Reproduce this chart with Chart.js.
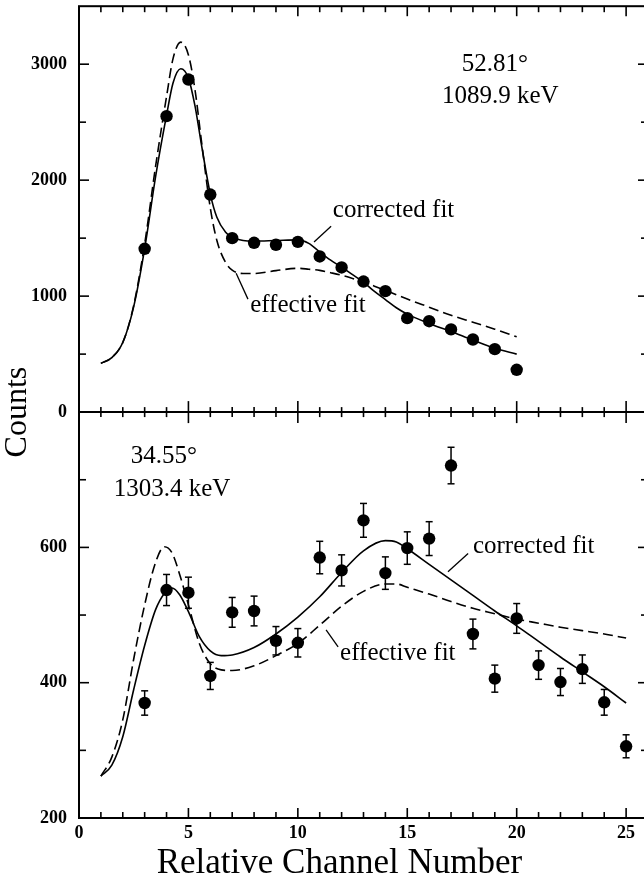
<!DOCTYPE html>
<html>
<head>
<meta charset="utf-8">
<title>Counts vs relative channel number</title>
<script src="https://cdn.jsdelivr.net/npm/chart.js@4.4.1/dist/chart.umd.min.js"></script>
<style>
  html, body { margin: 0; padding: 0; background: #fff; overflow: hidden; }
  #wrap { width: 664px; height: 877px; }
</style>
</head>
<body>
<div id="wrap"><canvas id="spectrum" width="664" height="877"></canvas></div>
<script>
// upper panel: 52.81 deg, 1089.9 keV
const chTop = [3, 4, 5, 6, 7, 8, 9, 10, 11, 12, 13, 14, 15, 16, 17, 18, 19, 20];
const countsTop = [1408, 2552, 2868, 1876, 1500, 1460, 1443, 1468, 1342, 1247, 1126, 1043, 810, 784, 713, 626, 543, 365];

const fitChTop = [1, 1.5, 2, 2.5, 3, 3.5, 4, 4.3, 4.65, 5, 5.3, 5.6, 6, 6.3, 6.7, 7, 7.5, 8, 9, 10, 10.5, 11, 11.5, 12, 12.5, 13, 13.5, 14, 14.5, 15, 16, 17, 18, 19, 20];
const correctedTop = [420, 470, 600, 910, 1410, 2030, 2560, 2840, 2960, 2880, 2640, 2300, 1880, 1680, 1550, 1505, 1480, 1475, 1480, 1485, 1455, 1380, 1310, 1250, 1185, 1120, 1040, 970, 900, 845, 765, 695, 620, 550, 500];
const effectiveTop = [420, 470, 600, 920, 1450, 2120, 2720, 3050, 3190, 3080, 2780, 2330, 1760, 1480, 1290, 1225, 1195, 1195, 1220, 1240, 1232, 1222, 1202, 1180, 1152, 1120, 1086, 1050, 1012, 975, 905, 835, 775, 715, 650];

// lower panel: 34.55 deg, 1303.4 keV
const chBot = [3, 4, 5, 6, 7, 8, 9, 10, 11, 12, 13, 14, 15, 16, 17, 18, 19, 20, 21, 22, 23, 24, 25];
const countsBot = [370, 537, 533, 410, 504, 506, 462, 459, 585, 566, 640, 562, 599, 613, 721, 472, 406, 495, 426, 401, 420, 371, 306];
const errBot = [18, 23, 23, 20, 22, 22, 21, 21, 24, 23, 25, 24, 24, 25, 27, 22, 20, 22, 21, 20, 21, 19, 17];

const fitChBot = [1, 1.5, 2, 2.5, 3, 3.5, 3.9, 4.25, 4.6, 5, 5.5, 6, 6.5, 7, 8, 9, 10, 11, 12, 13, 14, 14.5, 15, 16, 17, 18, 19, 20, 21, 22, 23, 24, 25];
const correctedBot = [262, 278, 320, 390, 455, 508, 532, 540, 530, 505, 468, 447, 440, 441, 452, 472, 497, 527, 563, 595, 610, 608, 598, 575, 552, 529, 506, 484, 461, 438, 416, 394, 370];
const effectiveBot = [262, 290, 345, 435, 515, 578, 601, 592, 560, 515, 458, 428, 419, 418, 425, 440, 458, 485, 513, 535, 546, 546, 541, 531, 520, 510, 502, 494, 488, 482, 477, 472, 466];

const serif = "'Liberation Serif', 'Times New Roman', serif";

function pts(xs, ys) {
  return xs.map((x, i) => ({ x: x, y: ys[i] }));
}

// text labels and their leader lines, placed in data units of each panel
const notes = [
  { axis: 'yTop', text: '52.81\u00b0', x: 19.0, y: 3000, align: 'center' },
  { axis: 'yTop', text: '1089.9 keV', x: 19.25, y: 2724, align: 'center' },
  { axis: 'yTop', text: 'corrected fit', x: 11.6, y: 1741, align: 'left', lead: [11.52, 1603, 10.74, 1466] },
  { axis: 'yTop', text: 'effective fit', x: 7.82, y: 922, align: 'left', lead: [7.72, 974, 7.18, 1198] },
  { axis: 'yBot', text: '34.55\u00b0', x: 3.88, y: 735, align: 'center' },
  { axis: 'yBot', text: '1303.4 keV', x: 4.25, y: 686, align: 'center' },
  { axis: 'yBot', text: 'corrected fit', x: 18.0, y: 601, align: 'left', lead: [17.78, 591, 16.86, 564] },
  { axis: 'yBot', text: 'effective fit', x: 11.93, y: 443, align: 'left', lead: [11.84, 453, 11.29, 478] }
];

function seg(ctx, x1, y1, x2, y2) {
  ctx.beginPath();
  ctx.moveTo(x1, y1);
  ctx.lineTo(x2, y2);
  ctx.stroke();
}

// box around both panels, shared middle axis, inward tick marks
const frameTicks = {
  id: 'frameTicks',
  afterDraw(chart) {
    const { ctx, chartArea: a, scales } = chart;
    const xs = scales.x, yt = scales.yTop, yb = scales.yBot;
    const mid = yt.getPixelForValue(0);
    ctx.save();
    ctx.strokeStyle = '#000';
    ctx.lineWidth = 2;
    ctx.strokeRect(a.left, a.top, a.right - a.left, a.bottom - a.top);
    seg(ctx, a.left, mid, a.right, mid);
    ctx.lineWidth = 1.6;
    xs.ticks.forEach(t => {
      if (t.value <= xs.min || t.value >= xs.max) return;
      const px = xs.getPixelForValue(t.value);
      const major = t.value % 5 === 0;
      const len = major ? 10 : 6;
      seg(ctx, px, a.top, px, a.top + len);
      seg(ctx, px, a.bottom - len, px, a.bottom);
      const half = major ? 11 : 5;
      seg(ctx, px, mid - half, px, mid + half);
    });
    [[yt, 1000], [yb, 200]].forEach(([s, step]) => {
      s.ticks.forEach(t => {
        if (t.value <= s.min || t.value >= s.max) return;
        const py = s.getPixelForValue(t.value);
        const len = t.value % step === 0 ? 10 : 7;
        seg(ctx, a.left, py, a.left + len, py);
        seg(ctx, a.right - len, py, a.right, py);
      });
    });
    ctx.restore();
  }
};

// vertical error bars with caps for the lower panel
const errorBars = {
  id: 'errorBars',
  beforeDatasetsDraw(chart) {
    const { ctx, scales } = chart;
    const xs = scales.x, ys = scales.yBot;
    ctx.save();
    ctx.strokeStyle = '#000';
    ctx.lineWidth = 1.5;
    chBot.forEach((c, i) => {
      const px = xs.getPixelForValue(c);
      const hi = ys.getPixelForValue(countsBot[i] + errBot[i]);
      const lo = ys.getPixelForValue(countsBot[i] - errBot[i]);
      seg(ctx, px, hi, px, lo);
      seg(ctx, px - 3.5, hi, px + 3.5, hi);
      seg(ctx, px - 3.5, lo, px + 3.5, lo);
    });
    ctx.restore();
  }
};

const labels = {
  id: 'labels',
  afterDraw(chart) {
    const { ctx, scales, chartArea: a } = chart;
    const xs = scales.x;
    ctx.save();
    ctx.fillStyle = '#000';
    ctx.strokeStyle = '#000';
    ctx.lineWidth = 1.3;
    ctx.textBaseline = 'middle';
    ctx.font = '25px ' + serif;
    notes.forEach(n => {
      const ys = scales[n.axis];
      ctx.textAlign = n.align;
      ctx.fillText(n.text, xs.getPixelForValue(n.x), ys.getPixelForValue(n.y));
      if (n.lead) {
        seg(ctx, xs.getPixelForValue(n.lead[0]), ys.getPixelForValue(n.lead[1]),
                 xs.getPixelForValue(n.lead[2]), ys.getPixelForValue(n.lead[3]));
      }
    });
    // x title, under the 0..25 span
    ctx.textAlign = 'center';
    ctx.font = '35px ' + serif;
    ctx.fillText('Relative Channel Number', xs.getPixelForValue(11.9), a.bottom + 46);
    // y title spans both panels
    ctx.translate(18, (a.top + a.bottom) / 2);
    ctx.rotate(-Math.PI / 2);
    ctx.font = '32px ' + serif;
    ctx.fillText('Counts', 0, 0);
    ctx.restore();
  }
};

Chart.defaults.font.family = serif;
Chart.defaults.color = '#000';

const tickFont = { size: 18, weight: 'bold' };

const dotStyle = {
  showLine: false,
  pointRadius: 6.2,
  pointBackgroundColor: '#000',
  pointBorderWidth: 0
};
const solidStyle = {
  borderColor: '#000',
  borderWidth: 1.6,
  pointRadius: 0,
  cubicInterpolationMode: 'monotone',
  fill: false
};
const dashStyle = Object.assign({}, solidStyle, { borderDash: [10, 5] });

new Chart(document.getElementById('spectrum'), {
  type: 'line',
  data: {
    datasets: [
      Object.assign({ label: 'data 52.81', data: pts(chTop, countsTop), yAxisID: 'yTop' }, dotStyle),
      Object.assign({ label: 'data 34.55', data: pts(chBot, countsBot), yAxisID: 'yBot' }, dotStyle),
      Object.assign({ label: 'corrected fit', data: pts(fitChTop, correctedTop), yAxisID: 'yTop' }, solidStyle),
      Object.assign({ label: 'effective fit', data: pts(fitChTop, effectiveTop), yAxisID: 'yTop' }, dashStyle),
      Object.assign({ label: 'corrected fit', data: pts(fitChBot, correctedBot), yAxisID: 'yBot' }, solidStyle),
      Object.assign({ label: 'effective fit', data: pts(fitChBot, effectiveBot), yAxisID: 'yBot' }, dashStyle)
    ]
  },
  options: {
    responsive: false,
    animation: false,
    events: [],
    layout: { padding: { left: 0, top: 5, right: 16, bottom: 0 } },
    plugins: { legend: { display: false }, tooltip: { enabled: false } },
    scales: {
      x: {
        type: 'linear',
        min: 0,
        max: 26,
        grid: { display: false, drawTicks: false },
        border: { display: false },
        ticks: {
          stepSize: 1,
          autoSkip: false,
          maxRotation: 0,
          padding: 5,
          font: tickFont,
          callback: v => (v % 5 === 0 && v <= 25) ? String(v) : ''
        },
        afterFit: s => { s.height = 59; s.paddingLeft = 0; s.paddingRight = 0; }
      },
      yBot: {
        type: 'linear',
        position: 'left',
        stack: 'panels',
        stackWeight: 1,
        min: 200,
        max: 800,
        grid: { display: false, drawTicks: false },
        border: { display: false },
        ticks: {
          stepSize: 100,
          padding: 12,
          font: tickFont,
          callback: v => (v % 200 === 0 && v < 800) ? String(v) : ''
        },
        afterFit: s => { s.width = 79; s.paddingTop = 0; s.paddingBottom = 0; }
      },
      yTop: {
        type: 'linear',
        position: 'left',
        stack: 'panels',
        stackWeight: 1,
        min: 0,
        max: 3500,
        grid: { display: false, drawTicks: false },
        border: { display: false },
        ticks: {
          stepSize: 500,
          padding: 12,
          font: tickFont,
          callback: v => (v % 1000 === 0 && v < 3500) ? String(v) : ''
        },
        afterFit: s => { s.width = 79; s.paddingTop = 0; s.paddingBottom = 0; }
      }
    }
  },
  plugins: [errorBars, frameTicks, labels]
});
</script>
</body>
</html>
